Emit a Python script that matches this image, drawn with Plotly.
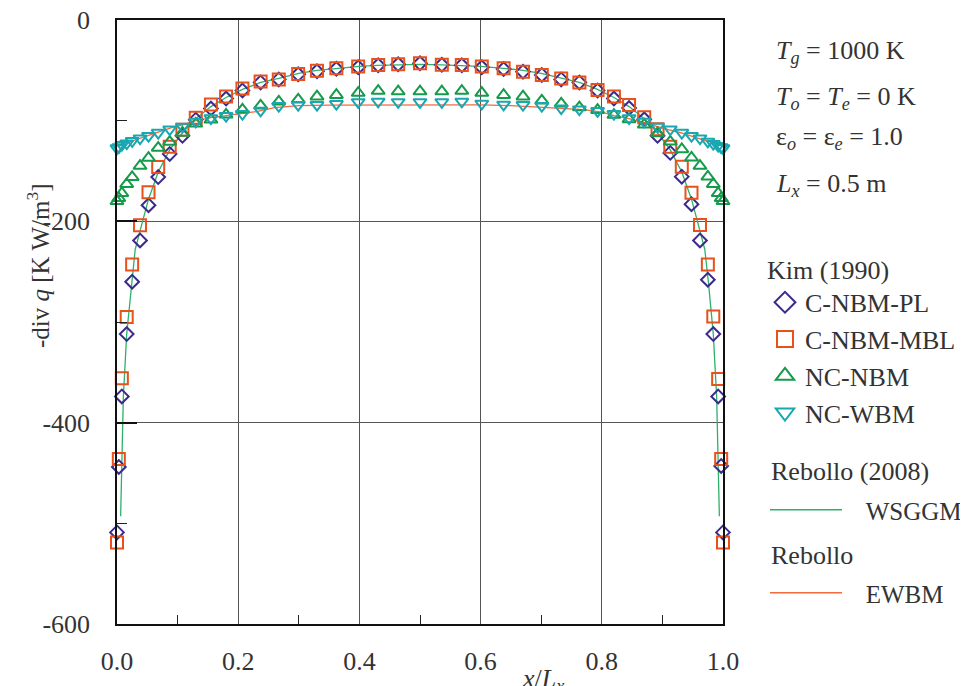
import plotly.graph_objects as go

# ---------------- data ----------------
X_POS = [0.000, 0.003, 0.008, 0.016, 0.025, 0.038, 0.052, 0.068, 0.087, 0.108,
         0.130, 0.155, 0.180, 0.207, 0.237, 0.267, 0.299, 0.330, 0.362, 0.398,
         0.431, 0.464, 0.500, 0.536, 0.569, 0.602, 0.638, 0.670, 0.701, 0.733,
         0.763, 0.793, 0.820, 0.845, 0.870, 0.892, 0.913, 0.932, 0.948, 0.962,
         0.975, 0.984, 0.992, 0.997, 1.000]

C_NBM_PL = [-509, -444, -374, -312, -260, -219, -184, -156, -133, -115,
            -99, -88, -78, -70, -62, -59, -54, -51, -48.5, -47,
            -45, -44, -43, -44.5, -45, -47, -48.7, -51.3, -54.6, -59,
            -62, -70, -78, -87.5, -98.6, -115, -132, -155.6, -183, -219,
            -258, -312, -374, -443, -509]

C_NBM_MBL = [-519, -436, -356, -295, -243, -204, -171, -146, -126, -109,
             -97, -84, -76, -68, -61, -59, -53.6, -50.3, -48, -46.3,
             -44.7, -44, -43, -44.4, -44.7, -46.3, -48, -51.3, -54.6, -58,
             -62, -69.5, -76, -84.4, -96.6, -108.6, -125.8, -145.7, -171.5, -203.6,
             -243, -294.6, -356.5, -436, -519]

NC_NBM = [-180, -177, -172, -163, -156, -145, -137, -127, -121, -112,
          -103, -99, -94, -89, -85, -81, -79, -76, -74.5, -72.5,
          -70.5, -71, -71, -71, -70.5, -72.5, -74.5, -76, -80, -83,
          -86.7, -89.4, -94.3, -98.6, -104, -112.5, -120.8, -128.4, -136.7, -145,
          -155.6, -163, -172, -177, -180]

NC_WBM = [-127.4, -126.4, -124, -122.5, -120.2, -117.5, -115.2, -112, -108.6, -106,
          -101, -97.6, -95.3, -93.3, -90, -85.4, -84.4, -84.4, -83.4, -81.5,
          -81, -81.5, -81.5, -81.5, -81, -83, -84, -84.4, -85.4, -87.7,
          -88.7, -90.4, -93.3, -97.6, -101, -106, -108.6, -112, -115.2, -117.5,
          -120.8, -123, -125, -126.4, -127.4]

WS_X = [0.006, 0.0077, 0.0105, 0.016, 0.024, 0.030, 0.040, 0.052, 0.068, 0.087,
        0.108, 0.130, 0.155, 0.180, 0.207, 0.237, 0.267, 0.300, 0.330, 0.362,
        0.400, 0.430, 0.465, 0.500, 0.535, 0.570, 0.600, 0.638, 0.670, 0.700,
        0.733, 0.763, 0.793, 0.820, 0.845, 0.870, 0.892, 0.913, 0.932, 0.948,
        0.960, 0.970, 0.976, 0.984, 0.9895, 0.9923, 0.994]
WSGGM = [-493, -444, -374, -312, -261, -228, -205, -178, -151, -129,
         -112, -98, -86, -77, -69, -62, -58, -53, -50, -48,
         -46, -45, -44.5, -44, -44.5, -45, -46, -48, -50, -53,
         -58, -62, -69, -77, -86, -98, -112, -129, -151, -178,
         -205, -228, -261, -312, -374, -444, -493]

EW_X = [0.006, 0.016, 0.030, 0.050, 0.070, 0.090, 0.110, 0.130, 0.155, 0.180,
        0.200, 0.230, 0.260, 0.300, 0.350, 0.400, 0.450, 0.500, 0.550, 0.600,
        0.650, 0.700, 0.740, 0.770, 0.800, 0.820, 0.845, 0.870, 0.890, 0.910,
        0.930, 0.950, 0.970, 0.984, 0.994]
EWBM = [-124, -122, -119, -115, -111, -107, -104, -100, -97, -95,
        -94, -91, -87, -85, -84.5, -84.4, -84.4, -84.4, -84.4, -84.4,
        -85, -86.5, -88, -89, -91.5, -95, -98, -102.5, -106, -109,
        -112, -116, -119.5, -122, -124]

X_TICKS = [0.0, 0.2, 0.4, 0.6, 0.8, 1.0]
X_TICKTEXT = ["0.0", "0.2", "0.4", "0.6", "0.8", "1.0"]
Y_TICKS = [0, -200, -400, -600]
Y_TICKTEXT = ["0", "-200", "-400", "-600"]

# ---------------- style ----------------
FONT = "Liberation Serif"
TXT = "#333333"
C_PL = "#3b2a8c"
C_MBL = "#e8501c"
C_NBM = "#169a4c"
C_WBM = "#19a7b1"
C_WS = "#2fb06a"
C_EW = "#f26a3e"

# page body has an 8px margin; figure is sized so that it fills the window
OFF = 8
FIG_W, FIG_H = 968 - OFF, 686 - OFF
L0, T0, W, H = 117 - OFF, 20 - OFF, 606, 604

def px(xs):  # screen x -> paper
    return (xs - OFF - L0) / W

def py(ys):  # screen y -> paper
    return 1 - (ys - OFF - T0) / H

fig = go.Figure()

fig.add_trace(go.Scatter(x=WS_X, y=WSGGM, mode="lines",
                         line=dict(color=C_WS, width=1.3), showlegend=False))
fig.add_trace(go.Scatter(x=EW_X, y=EWBM, mode="lines",
                         line=dict(color=C_EW, width=1.3), showlegend=False))

series = [
    ("C-NBM-PL", C_NBM_PL, "diamond-open", C_PL, 10.5),
    ("C-NBM-MBL", C_NBM_MBL, "square-open", C_MBL, 12),
    ("NC-NBM", NC_NBM, "triangle-up-open", C_NBM, 11.5),
    ("NC-WBM", NC_WBM, "triangle-down-open", C_WBM, 11.5),
]
for name, vals, sym, col, sz in series:
    fig.add_trace(go.Scatter(x=X_POS, y=vals, mode="markers", cliponaxis=False,
                             marker=dict(symbol=sym, size=sz, color=col,
                                         line=dict(color=col, width=2)),
                             showlegend=False))

NB = "\u00a0"
for name, vals, sym, col, sz in series:
    fig.add_trace(go.Scatter(x=[None], y=[None], mode="markers", name=name,
                             marker=dict(symbol=sym, size=16, color=col,
                                         line=dict(color=col, width=2)),
                             legend="legend"))
fig.add_trace(go.Scatter(x=[None], y=[None], mode="lines", name=NB * 3 + "WSGGM",
                         line=dict(color=C_WS, width=1.5), legend="legend2"))
fig.add_trace(go.Scatter(x=[None], y=[None], mode="lines", name=NB * 3 + "EWBM",
                         line=dict(color=C_EW, width=1.5), legend="legend3"))

LEGF = dict(family=FONT, size=26, color=TXT)
LEGF2 = dict(family=FONT, size=25, color=TXT)
leg_common = dict(bgcolor="rgba(0,0,0,0)", xanchor="left",
                  yanchor="top", tracegroupgap=0)
fig.update_layout(
    legend=dict(title=dict(text="Kim (1990)", font=LEGF), font=LEGF,
                x=px(765), y=py(245), itemwidth=30, **leg_common),
    legend2=dict(x=px(765), y=py(487), itemwidth=72, font=LEGF2, **leg_common),
    legend3=dict(x=px(765), y=py(570), itemwidth=72, font=LEGF2, **leg_common),
)

# legend group headings
for txt, yy in [("Rebollo (2008)", 471), ("Rebollo", 555)]:
    fig.add_annotation(text=txt, xref="paper", yref="paper", x=px(769), y=py(yy),
                       xanchor="left", yanchor="middle", showarrow=False,
                       font=LEGF)

info = [
    ("<i>T</i><sub><i>g</i></sub> = 1000 K", 52),
    ("<i>T</i><sub><i>o</i></sub> = <i>T</i><sub><i>e</i></sub> = 0 K", 98),
    ("ε<sub><i>o</i></sub> = ε<sub><i>e</i></sub> = 1.0", 138),
    ("<i>L</i><sub><i>x</i></sub> = 0.5 m", 185),
]
for txt, yy in info:
    fig.add_annotation(text=txt, xref="paper", yref="paper", x=px(774), y=py(yy),
                       xanchor="left", yanchor="middle", showarrow=False,
                       font=dict(family=FONT, size=26, color=TXT))

fig.add_annotation(text="-div <i>q</i> [K W/m<sup>3</sup>]", xref="paper", yref="paper",
                   x=px(38), y=py(266), textangle=-90, showarrow=False,
                   xanchor="center", yanchor="middle",
                   font=dict(family=FONT, size=25, color=TXT))
fig.add_annotation(text="<i>x</i>/<i>L</i><sub><i>x</i></sub>", xref="paper", yref="paper",
                   x=px(543), y=py(680), showarrow=False,
                   xanchor="center", yanchor="middle",
                   font=dict(family=FONT, size=26, color=TXT))

fig.update_xaxes(range=[0, 1], tickvals=X_TICKS, ticktext=X_TICKTEXT,
                 showline=True, linecolor="#111", linewidth=1.5, mirror=True,
                 showgrid=True, gridcolor="#555", gridwidth=1,
                 ticks="", zeroline=False, ticklabelstandoff=13,
                 ticklabeloverflow="allow",
                 tickfont=dict(family=FONT, size=26, color=TXT),
                 minor=dict(tickvals=[0.1, 0.3, 0.5, 0.7, 0.9], ticks="inside",
                            ticklen=9, tickcolor="#222", tickwidth=1, showgrid=False))
fig.update_yaxes(range=[-600, 0], tickvals=Y_TICKS, ticktext=Y_TICKTEXT,
                 showline=True, linecolor="#111", linewidth=1.5, mirror=True,
                 showgrid=True, gridcolor="#555", gridwidth=1,
                 ticks="inside", ticklen=20, tickcolor="#111", tickwidth=1.5,
                 zeroline=False, ticklabelstandoff=20,
                 ticklabeloverflow="allow",
                 tickfont=dict(family=FONT, size=26, color=TXT),
                 minor=dict(tickvals=[-100, -300, -500], ticks="inside",
                            ticklen=10, tickcolor="#222", tickwidth=1, showgrid=False))

fig.update_layout(width=FIG_W, height=FIG_H, plot_bgcolor="white", paper_bgcolor="white",
                  margin=dict(l=L0, r=FIG_W - L0 - W, t=T0, b=FIG_H - T0 - H,
                              autoexpand=False),
                  showlegend=True)

fig.write_html("out.html")
